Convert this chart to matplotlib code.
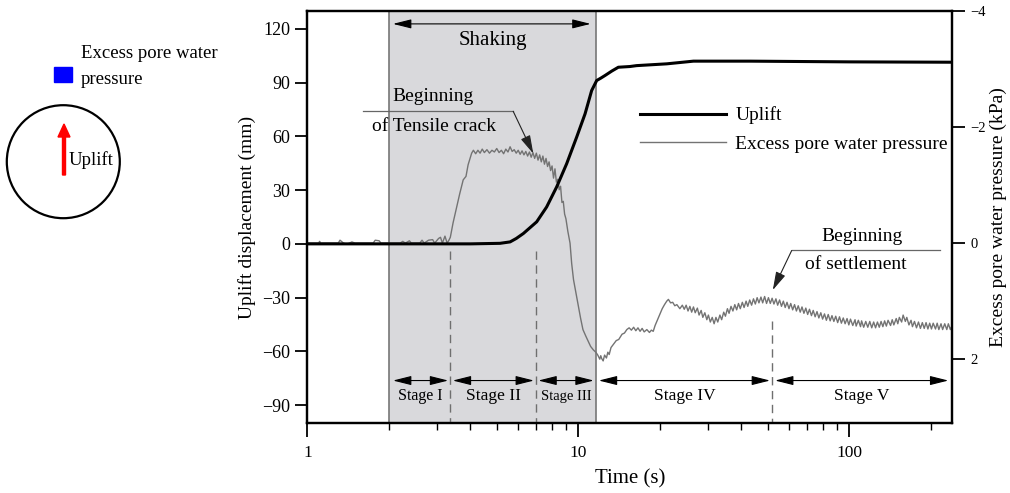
import matplotlib
matplotlib.use("Agg")
import matplotlib.pyplot as plt
import matplotlib.ticker as ticker
from matplotlib.patches import Circle, Rectangle, FancyArrow
import numpy as np

plt.rcParams["font.family"] = ["Liberation Serif", "DejaVu Serif"]

# Uplift displacement (mm) against time (s)
uplift_t = [1.0, 2.0, 4.0, 5.14, 5.6, 5.9, 6.27, 7.02, 7.64, 8.32, 9.06, 9.86, 10.59,
            11.2, 11.69, 12.1, 12.55, 13.3, 14.05, 15.5, 16.4, 21.2, 26.6, 43.0,
            100.0, 240.0]
uplift_mm = [0, 0, 0, 0.3, 1.1, 3.0, 5.8, 12.3, 20.6, 31.8, 44.8, 59.6, 72.6,
             85.6, 91.2, 92.5, 94.0, 96.5, 98.6, 99.0, 99.5, 100.5, 102.0, 102.0,
             101.6, 101.4]

# Excess pore water pressure (kPa) against time (s), up to 25 s
pore_t = [1.0, 1.1, 1.11, 1.12, 1.3, 1.32, 1.36, 1.4, 1.46, 1.5, 1.75, 1.78, 1.84, 1.87,
          2.2, 2.25, 2.3, 2.38, 2.42, 2.6, 2.65, 2.7, 2.8, 2.9, 2.95, 3.05, 3.1, 3.15,
          3.22, 3.28, 3.33,
          3.37, 3.45, 3.55, 3.65, 3.76, 3.85, 3.92, 4.04,
          4.1, 4.18, 4.26, 4.34, 4.42, 4.5, 4.6, 4.7, 4.8, 4.9, 5.0, 5.1, 5.2, 5.3, 5.4,
          5.5, 5.6, 5.7, 5.8, 5.9, 6.0, 6.1, 6.2, 6.3, 6.4, 6.5, 6.6, 6.7, 6.8, 6.9, 7.0,
          7.1, 7.2, 7.3, 7.4, 7.5, 7.6, 7.7, 7.8, 7.9, 8.0, 8.1, 8.2, 8.3, 8.4, 8.5, 8.6,
          8.7, 8.8, 8.9, 9.0, 9.15, 9.32, 9.45, 9.6, 9.75, 9.86, 10.0, 10.2, 10.4, 10.65,
          10.9, 11.1, 11.36, 11.6, 11.8, 12.0, 12.1, 12.2, 12.35, 12.5, 12.7, 12.85, 13.0,
          13.2, 13.5, 13.8, 14.1, 14.5, 14.8, 15.1, 15.4, 15.7, 16.0, 16.3, 16.6, 16.9,
          17.2, 17.5, 17.9, 18.3, 18.6, 18.9, 19.2, 19.6, 20.0, 20.4, 20.8, 21.2, 21.5,
          21.9, 22.3, 22.7, 23.1, 23.7, 24.2, 24.6]
pore_kpa = [0, 0, -0.03, 0, 0, -0.05, 0, 0.02, -0.02, 0, 0, -0.05, -0.04, 0,
            0, -0.03, 0, -0.04, 0, 0, -0.05, 0, -0.05, -0.06, 0, -0.08, -0.1, 0,
            -0.12, 0.0, -0.05,
            -0.1, -0.35, -0.6, -0.85, -1.09, -1.15, -1.35, -1.55,
            -1.6, -1.54, -1.6, -1.55, -1.62, -1.56, -1.61, -1.55, -1.6, -1.57, -1.63, -1.56,
            -1.6, -1.54, -1.62, -1.57, -1.66, -1.58, -1.61, -1.55, -1.6, -1.53, -1.59, -1.52,
            -1.58, -1.5, -1.57, -1.48, -1.56, -1.46, -1.55, -1.43, -1.52, -1.4, -1.5, -1.36,
            -1.46, -1.32, -1.4, -1.25, -1.33, -1.12, -1.28, -1.05, -1.1, -0.92, -0.98,
            -0.7, -0.72, -0.5, -0.42, -0.2, 0.0, 0.35, 0.63, 0.8, 0.92, 1.08, 1.3, 1.49, 1.6,
            1.7, 1.78, 1.84, 1.88, 1.93, 2.0, 1.94, 1.99, 2.03, 1.93, 1.98, 1.88, 1.92,
            1.8, 1.74, 1.68, 1.66, 1.57, 1.55, 1.49, 1.46, 1.5, 1.45, 1.51, 1.46, 1.52,
            1.47, 1.53, 1.49, 1.54, 1.5, 1.52, 1.42, 1.32, 1.22, 1.13, 1.06, 1.0, 0.97,
            1.03, 1.02, 1.08, 1.06, 1.13, 1.07, 1.14]

# densely sampled, noisy part of the record after 25 s: (time s, kPa)
pore_tail = [
    (25.0, 1.07), (25.4, 1.17), (25.8, 1.09), (26.2, 1.19), (26.6, 1.10), (27.0, 1.20),
    (27.5, 1.12), (27.9, 1.24), (28.4, 1.16), (28.8, 1.28), (29.3, 1.20), (29.8, 1.32),
    (30.2, 1.24), (30.7, 1.36), (31.2, 1.28), (31.7, 1.39), (32.2, 1.28), (32.7, 1.36),
    (33.3, 1.24), (33.8, 1.32), (34.4, 1.19), (34.9, 1.26), (35.5, 1.13), (36.0, 1.21),
    (36.6, 1.09), (37.2, 1.17), (37.8, 1.06), (38.4, 1.15), (39.0, 1.04), (39.6, 1.13),
    (40.3, 1.02), (40.9, 1.11), (41.6, 1.00), (42.2, 1.09), (42.9, 0.98), (43.6, 1.07),
    (44.3, 0.96), (45.0, 1.05), (45.7, 0.94), (46.4, 1.03), (47.2, 0.93), (47.9, 1.03),
    (48.7, 0.92), (49.5, 1.04), (50.3, 0.94), (51.1, 1.04), (51.9, 0.95), (52.7, 1.05),
    (53.6, 0.96), (54.4, 1.07), (55.3, 0.98), (56.2, 1.09), (57.1, 1.00), (58.0, 1.11),
    (58.9, 1.02), (59.9, 1.13), (60.8, 1.04), (61.8, 1.15), (62.8, 1.06), (63.8, 1.17),
    (64.8, 1.08), (65.9, 1.19), (66.9, 1.10), (68.0, 1.21), (69.1, 1.12), (70.2, 1.23),
    (71.3, 1.14), (72.5, 1.25), (73.6, 1.16), (74.8, 1.27), (76.0, 1.18), (77.2, 1.29),
    (78.5, 1.20), (79.7, 1.31), (81.0, 1.22), (82.3, 1.33), (83.6, 1.23), (85.0, 1.34),
    (86.3, 1.25), (87.7, 1.35), (89.1, 1.26), (90.6, 1.37), (92.0, 1.27), (93.5, 1.38),
    (95.0, 1.29), (96.5, 1.39), (98.1, 1.30), (99.6, 1.41), (101, 1.31), (103, 1.42),
    (105, 1.32), (106, 1.43), (108, 1.33), (110, 1.44), (111, 1.34), (113, 1.45),
    (115, 1.35), (117, 1.45), (119, 1.35), (121, 1.46), (123, 1.36), (125, 1.46),
    (127, 1.36), (129, 1.45), (131, 1.35), (133, 1.44), (135, 1.34), (137, 1.43),
    (139, 1.33), (142, 1.42), (144, 1.32), (146, 1.41), (149, 1.30), (151, 1.39),
    (153, 1.28), (156, 1.36), (158, 1.24), (161, 1.35), (163, 1.28), (166, 1.41),
    (169, 1.33), (171, 1.44), (174, 1.35), (177, 1.46), (180, 1.36), (183, 1.47),
    (186, 1.37), (189, 1.47), (192, 1.37), (195, 1.48), (198, 1.38), (201, 1.48),
    (204, 1.38), (208, 1.48), (211, 1.38), (214, 1.49), (218, 1.39), (221, 1.49),
    (225, 1.39), (229, 1.49), (232, 1.39), (236, 1.49), (240, 1.41),
]

# Shaking period and stage boundaries (s)
shaking = (2.0, 11.6)
stage_cuts = [3.37, 7.0, 52.0]
stage_names = ["Stage I", "Stage II", "Stage III", "Stage IV", "Stage V"]
stage_spans = [(2.07, 3.31), (3.44, 6.86), (7.12, 11.4), (11.9, 51.0), (53.2, 232.0)]
stage_fonts = [11.5, 12.5, 10.5, 12.5, 12.5]

tail_t, tail_kpa = zip(*pore_tail)
all_t = list(pore_t) + list(tail_t)
all_kpa = list(pore_kpa) + list(tail_kpa)

fig = plt.figure(figsize=(10.1, 4.93), dpi=100)
ax = fig.add_axes([0.3043, 0.142, 0.6386, 0.8357])
ax2 = ax.twinx()

# pore pressure axis sits underneath, uplift axis on top
ax.set_zorder(ax2.get_zorder() + 1)
ax.patch.set_visible(False)
ax2.patch.set_visible(True)
ax2.patch.set_facecolor("white")

ax2.axvspan(shaking[0], shaking[1], facecolor="#d9d9dc", edgecolor="#777777", lw=1.2, zorder=0)
pore_line, = ax2.plot(all_t, all_kpa, color="#737373", lw=1.0, zorder=2)
ax2.set_ylim(3.1, -4)
ax2.set_yticks([-4, -2, 0, 2])
ax2.yaxis.set_major_formatter(ticker.FuncFormatter(lambda v, p: f"{v:g}".replace("-", "\u2212")))
ax2.tick_params(axis="y", direction="out", length=9, width=1.3, labelsize=10.5, pad=4)
ax2.set_ylabel("Excess pore water pressure (kPa)", fontsize=14, labelpad=3)

uplift_line, = ax.plot(uplift_t, uplift_mm, color="black", lw=2.2, zorder=3)
ax.set_xscale("log")
ax.set_xlim(1, 240)
ax.set_ylim(-100, 130)
ax.set_yticks([-90, -60, -30, 0, 30, 60, 90, 120])
ax.xaxis.set_major_locator(ticker.LogLocator(base=10))
ax.xaxis.set_minor_locator(ticker.LogLocator(base=10, subs=np.arange(2, 10)))
ax.xaxis.set_major_formatter(ticker.FuncFormatter(lambda v, p: f"{v:g}"))
ax.xaxis.set_minor_formatter(ticker.NullFormatter())
ax.tick_params(axis="x", which="major", direction="out", length=10, width=1.3, labelsize=12.5, pad=6)
ax.tick_params(axis="x", which="minor", direction="out", length=5, width=1.0)
ax.tick_params(axis="y", direction="out", length=9, width=1.3, labelsize=13)
ax.set_xlabel("Time (s)", fontsize=15, labelpad=6)
ax.set_ylabel("Uplift displacement (mm)", fontsize=14, labelpad=4)

for a in (ax, ax2):
    for s in a.spines.values():
        s.set_linewidth(1.6)

# stage boundaries
for i, tc in enumerate(stage_cuts):
    top = -4 if i < 2 else -43
    ax.plot([tc, tc], [top, -100], color="#6f6f6f", lw=1.0, ls=(0, (6, 4)), zorder=2)

arrow_kw = dict(arrowstyle="<|-|>,head_length=0.8,head_width=0.2", color="black",
                lw=0.8, mutation_scale=14, shrinkA=0, shrinkB=0)
for name, (t0, t1), fs in zip(stage_names, stage_spans, stage_fonts):
    ax.annotate("", xy=(t1, -76.3), xytext=(t0, -76.3), arrowprops=arrow_kw, zorder=4)
    ax.text(np.sqrt(t0 * t1), -85, name, ha="center", va="center", fontsize=fs)

# shaking period
ax.annotate("", xy=(11.1, 122.8), xytext=(2.07, 122.8), arrowprops=arrow_kw)
ax.text(4.84, 113.5, "Shaking", ha="center", va="center", fontsize=15)

# tensile crack note
head_kw = dict(arrowstyle="-|>,head_length=0.8,head_width=0.22", color="#222222",
               lw=0.8, mutation_scale=14, shrinkA=0, shrinkB=0)
ax.plot([1.6, 5.75], [74, 74], color="#666666", lw=0.9)
ax.annotate("", xy=(6.82, 50.4), xytext=(5.75, 74), arrowprops=head_kw)
ax.text(2.9, 82.5, "Beginning", ha="center", va="center", fontsize=14)
ax.text(2.93, 65.5, "of Tensile crack", ha="center", va="center", fontsize=14)

# settlement note
ax.plot([61.3, 216], [-3.7, -3.7], color="#666666", lw=0.9)
ax.annotate("", xy=(52.2, -25.8), xytext=(61.3, -3.7), arrowprops=head_kw)
ax.text(111, 4.2, "Beginning", ha="center", va="center", fontsize=14)
ax.text(106, -11.5, "of settlement", ha="center", va="center", fontsize=14)

ax.legend([uplift_line, pore_line], ["Uplift", "Excess pore water pressure"],
          loc="upper left", bbox_to_anchor=(0.516, 0.768), frameon=False, fontsize=14,
          handlelength=4.4, handletextpad=0.5, labelspacing=0.55, borderpad=0,
          borderaxespad=0)

# sensor sketch on the left, in pixel units
sk = fig.add_axes([0, 0, 300 / 1010, 1])
sk.set_xlim(0, 300)
sk.set_ylim(493, 0)
sk.axis("off")
sk.add_patch(Rectangle((54, 67), 18, 15, color="#0000ff"))
sk.text(81, 53, "Excess pore water", fontsize=13.5, va="center", ha="left")
sk.text(81, 80, "pressure", fontsize=13.5, va="center", ha="left")
sk.add_patch(Circle((63.3, 161.7), 56.5, fill=False, lw=1.6, color="black"))
sk.add_patch(FancyArrow(64, 175, 0, -51, width=3, head_width=12, head_length=13,
                        length_includes_head=True, color="red"))
sk.text(69, 160, "Uplift", fontsize=13.5, va="center", ha="left")

fig.savefig("out.png", dpi=100)
